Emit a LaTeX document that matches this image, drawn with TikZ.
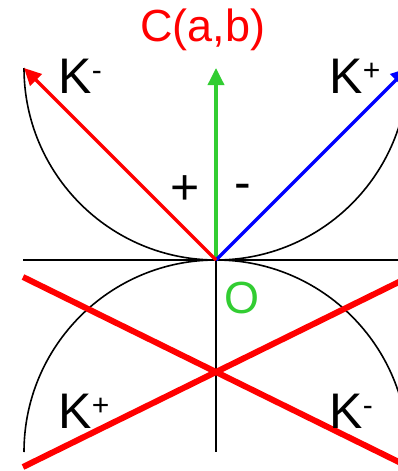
\documentclass[tikz,border=0pt]{standalone}
\usepackage{fontspec}
\setmainfont{Liberation Sans}
\usetikzlibrary{arrows.meta}
\definecolor{lgreen}{RGB}{50,205,50}
\newcommand\supr[1]{\raisebox{13pt}{\fontsize{30}{30}\selectfont #1}}
\begin{document}
\begin{tikzpicture}[x=1pt,y=-1pt,
  thinline/.style={black,line width=1.6pt},
  axisline/.style={black,line width=2pt},
  vec/.style={line width=3.5pt,-{Triangle[width=16pt,length=17pt]}},
  cross/.style={red,line width=6pt},
  lbl/.style={inner sep=0pt,anchor=base west,font=\fontsize{50}{50}\selectfont},
  sgn/.style={inner sep=0pt,font=\fontsize{50}{50}\selectfont}]
\useasboundingbox (0,0) rectangle (398,471);
\coordinate (O) at (216,260);
\coordinate (Ktl) at (24,68);
\coordinate (Ktr) at (408,68);
\coordinate (Ctop) at (216,68);
\coordinate (Hl) at (23,260);
\coordinate (Hr) at (410,260);
\coordinate (Vb) at (216,452);
\coordinate (X1a) at (23,277);
\coordinate (X1b) at (409,467);
\coordinate (X2a) at (23,467);
\coordinate (X2b) at (409,277);
\begin{scope}
\clip (0,0) rectangle (398,471);
% upper half-circle (lower half of circle centred at (216,68))
\draw[thinline] (Ktl) arc[start angle=180,end angle=0,radius=192];
% lower half-circle (upper half of circle centred at (216,452))
\draw[thinline] (24,452) arc[start angle=180,end angle=360,radius=192];
\draw[axisline] (Hl) -- (Hr);
\draw[axisline] (O) -- (Vb);
\draw[cross] (X1a) -- (X1b);
\draw[cross] (X2a) -- (X2b);
\draw[vec,lgreen] (O) -- (Ctop);
\draw[vec,blue] (O) -- (Ktr);
\draw[vec,red] (O) -- (Ktl);
\end{scope}
\node[lbl,red,font=\fontsize{45}{45}\selectfont] (C) at (140,41.5) {C(a,b)};
\node[lbl] (K1) at (58.4,93) {K\supr{-}};
\node[lbl] (K2) at (329.4,93) {K\supr{+}};
\node[lbl] (K3) at (58.4,428) {K\supr{+}};
\node[lbl] (K4) at (329.4,428) {K\supr{-}};
\node[sgn] (plus) at (185,190.5) {+};
\node[sgn] (minus) at (243,192) {-};
\node[sgn,lgreen,font=\fontsize{45}{45}\selectfont] (Olbl) at (242,298.5) {O};
\end{tikzpicture}
\end{document}
